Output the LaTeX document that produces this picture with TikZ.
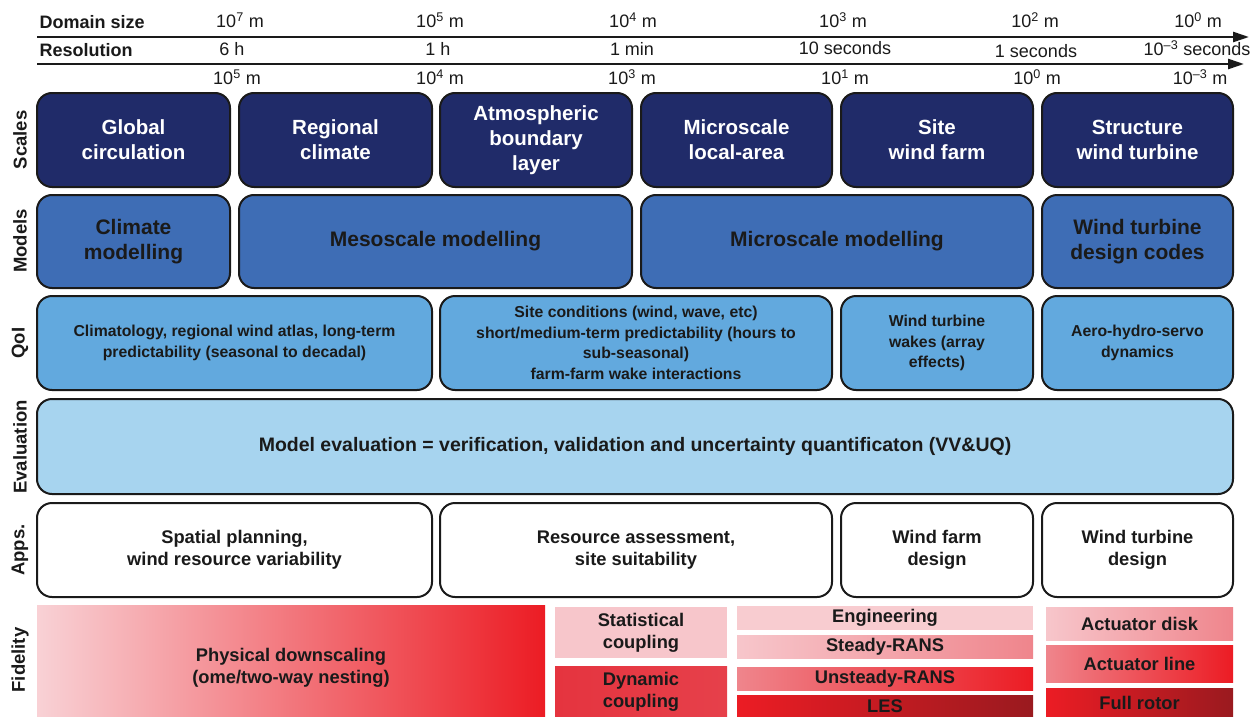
\documentclass[tikz,border=0pt]{standalone}
\usepackage{fontspec}
\setmainfont{Liberation Sans}
\usetikzlibrary{arrows.meta}
\definecolor{navy}{HTML}{202B69}
\definecolor{midblue}{HTML}{3E6DB5}
\definecolor{qoiblue}{HTML}{62A9DE}
\definecolor{evalblue}{HTML}{A7D4EF}
\definecolor{pinkA}{HTML}{F7C6CB}
\definecolor{pinkB}{HTML}{EF858C}
\definecolor{redA}{HTML}{EC1C24}
\definecolor{redD}{HTML}{9A1A1F}
\definecolor{dynred}{HTML}{E5343F}
\definecolor{inkc}{HTML}{1A1A1A}
\newcommand\cellbox[7]{\node[#6, minimum width={(#4-#2)*1pt}, minimum height={(#5-#3)*1pt}] (#1) at ({(#2+#4)/2},{(#3+#5)/2}) {#7};}
\tikzset{
  cell/.style={draw=inkc, line width=2pt, rounded corners=15pt, align=center, inner sep=0pt},
  scalecell/.style={cell, fill=navy, text=white, font=\bfseries\fontsize{20.5}{25}\selectfont},
  modelcell/.style={cell, fill=midblue, text=inkc, font=\bfseries\fontsize{21}{25}\selectfont},
  qoicell/.style={cell, fill=qoiblue, text=inkc, font=\bfseries\fontsize{15.8}{20.5}\selectfont},
  evalcell/.style={cell, fill=evalblue, text=inkc, font=\bfseries\fontsize{19.5}{22}\selectfont},
  appcell/.style={cell, fill=white, text=inkc, font=\bfseries\fontsize{18.3}{22}\selectfont},
  fidcell/.style={inner sep=0pt, align=center, text=inkc, font=\bfseries\fontsize{18.3}{22}\selectfont},
  rowlab/.style={rotate=90, text=inkc, font=\bfseries\fontsize{18.5}{20}\selectfont},
  axislab/.style={anchor=west, text=inkc, font=\bfseries\fontsize{18}{20}\selectfont},
  axisval/.style={text=inkc, font=\fontsize{18}{20}\selectfont},
  axisline/.style={draw=inkc, line width=2.5pt, -{Triangle[length=16pt,width=10pt]}}
}
\begin{document}
\begin{tikzpicture}[x=1pt,y=-1pt]
\useasboundingbox[fill=white] (0,0) rectangle (1255,717);

% axes
\coordinate (a1s) at (37,37);
\coordinate (a1e) at (1249,37);
\coordinate (a2s) at (37,64);
\coordinate (a2e) at (1244,64);
\draw[axisline] (a1s) -- (a1e);
\draw[axisline] (a2s) -- (a2e);
\node[axislab] (domlab) at (36,22) {Domain size};
\node[axislab] (reslab) at (36,50) {Resolution};

\node[axisval] (d1) at (240,20) {10\textsuperscript{7} m};
\node[axisval] (d2) at (440,20) {10\textsuperscript{5} m};
\node[axisval] (d3) at (633,20) {10\textsuperscript{4} m};
\node[axisval] (d4) at (843,20) {10\textsuperscript{3} m};
\node[axisval] (d5) at (1035,20) {10\textsuperscript{2} m};
\node[axisval] (d6) at (1198,20) {10\textsuperscript{0} m};

\node[axisval] (r1) at (232,49) {6 h};
\node[axisval] (r2) at (438,49) {1 h};
\node[axisval] (r3) at (632,49) {1 min};
\node[axisval] (r4) at (845,48) {10 seconds};
\node[axisval] (r5) at (1036,51) {1 seconds};
\node[axisval] (r6) at (1197,48) {10\textsuperscript{\textendash3} seconds};

\node[axisval] (s1) at (237,77) {10\textsuperscript{5} m};
\node[axisval] (s2) at (440,77) {10\textsuperscript{4} m};
\node[axisval] (s3) at (632,77) {10\textsuperscript{3} m};
\node[axisval] (s4) at (845,77) {10\textsuperscript{1} m};
\node[axisval] (s5) at (1037,77) {10\textsuperscript{0} m};
\node[axisval] (s6) at (1200,77) {10\textsuperscript{\textendash3} m};

% row labels
\node[rowlab] (lScales) at (20,140) {Scales};
\node[rowlab] (lModels) at (20,241) {Models};
\node[rowlab] (lQoI) at (20,343) {QoI};
\node[rowlab] (lEval) at (20,447) {Evaluation};
\node[rowlab] (lApps) at (20,550) {Apps.};
\node[rowlab] (lFid) at (20,660) {Fidelity};

% Scales
\cellbox{sc1}{37}{93}{230}{187}{scalecell}{Global\\circulation}
\cellbox{sc2}{239}{93}{432}{187}{scalecell}{Regional\\climate}
\cellbox{sc3}{440}{93}{632}{187}{scalecell}{Atmospheric\\boundary\\layer}
\cellbox{sc4}{641}{93}{832}{187}{scalecell}{Microscale\\local-area}
\cellbox{sc5}{841}{93}{1033}{187}{scalecell}{Site\\wind farm}
\cellbox{sc6}{1042}{93}{1233}{187}{scalecell}{Structure\\wind turbine}

% Models
\cellbox{mo1}{37}{195}{230}{288}{modelcell}{Climate\\modelling}
\cellbox{mo2}{239}{195}{632}{288}{modelcell}{Mesoscale modelling}
\cellbox{mo3}{641}{195}{1033}{288}{modelcell}{Microscale modelling}
\cellbox{mo4}{1042}{195}{1233}{288}{modelcell}{Wind turbine\\design codes}

% QoI
\cellbox{qo1}{37}{296}{432}{390}{qoicell}{Climatology, regional wind atlas, long-term\\predictability (seasonal to decadal)}
\cellbox{qo2}{440}{296}{832}{390}{qoicell}{Site conditions (wind, wave, etc)\\short/medium-term predictability (hours to\\sub-seasonal)\\farm-farm wake interactions}
\cellbox{qo3}{841}{296}{1033}{390}{qoicell}{Wind turbine\\wakes (array\\effects)}
\cellbox{qo4}{1042}{296}{1233}{390}{qoicell}{Aero-hydro-servo\\dynamics}

% Evaluation
\cellbox{ev}{37}{399}{1233}{494}{evalcell}{Model evaluation = verification, validation and uncertainty quantificaton (VV\&UQ)}

% Apps
\cellbox{ap1}{37}{503}{432}{597}{appcell}{Spatial planning,\\wind resource variability}
\cellbox{ap2}{440}{503}{832}{597}{appcell}{Resource assessment,\\site suitability}
\cellbox{ap3}{841}{503}{1033}{597}{appcell}{Wind farm\\design}
\cellbox{ap4}{1042}{503}{1233}{597}{appcell}{Wind turbine\\design}

% Fidelity
\cellbox{fi1}{37}{605}{545}{717}{fidcell, left color=pinkA!80!white, right color=redA}{\rule{0pt}{26pt}Physical downscaling\\(ome/two-way nesting)}
\cellbox{fi2}{555}{607}{727}{658}{fidcell, fill=pinkA}{Statistical\\coupling}
\cellbox{fi3}{555}{666}{727}{717}{fidcell, left color=dynred, right color=dynred!85!pinkB}{Dynamic\\coupling}
\cellbox{fi4}{737}{606}{1033}{630}{fidcell, fill=pinkA!90!white}{Engineering}
\cellbox{fi5}{737}{635}{1033}{658}{fidcell, left color=pinkA, right color=pinkB}{Steady-RANS}
\cellbox{fi6}{737}{667}{1033}{690}{fidcell, left color=pinkB, right color=redA}{Unsteady-RANS}
\cellbox{fi7}{737}{695}{1033}{717}{fidcell, left color=redA, right color=redD}{LES}
\cellbox{fi8}{1046}{607}{1233}{640}{fidcell, left color=pinkA, right color=pinkB}{Actuator disk}
\cellbox{fi9}{1046}{645}{1233}{682}{fidcell, left color=pinkB, right color=redA}{Actuator line}
\cellbox{fi10}{1046}{688}{1233}{717}{fidcell, left color=redA, right color=redD}{Full rotor}
\end{tikzpicture}
\end{document}
